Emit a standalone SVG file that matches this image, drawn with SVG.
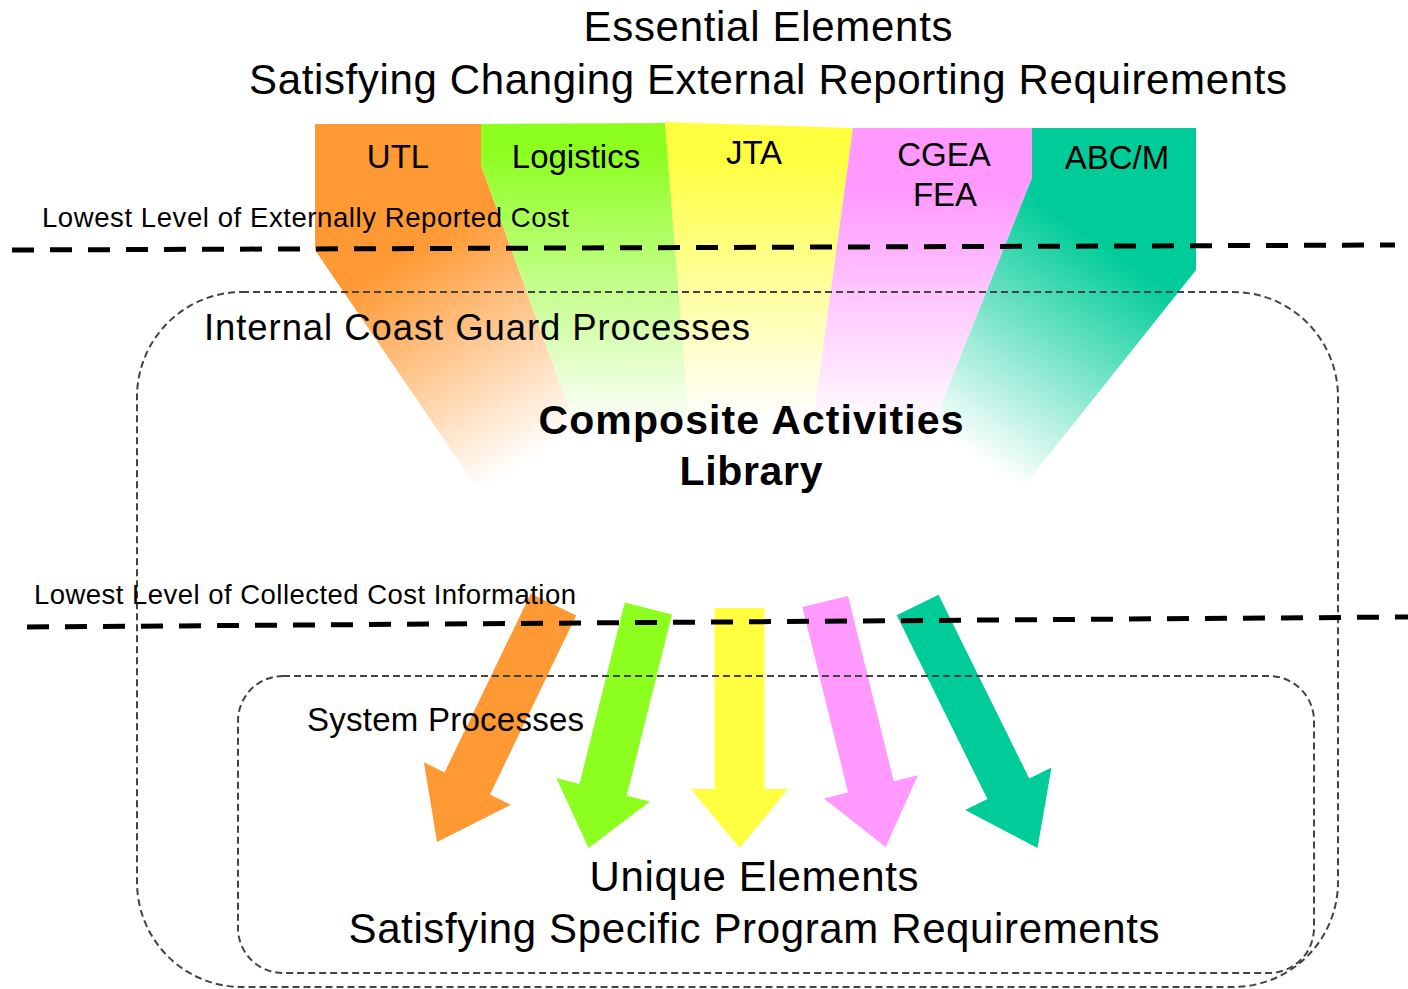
<svg xmlns="http://www.w3.org/2000/svg" width="1408" height="989" viewBox="0 0 1408 989">
<style>
text{font-family:"Liberation Sans",Arial,Helvetica,sans-serif;fill:#000}
.title{font-size:42px}
.band{font-size:33px}
.small{font-size:27.5px}
.mid{font-size:36.5px}
.bold{font-size:41px;font-weight:bold}
.thick{fill:none;stroke:#000;stroke-width:5;stroke-dasharray:22 16}
.thin{fill:none;stroke:#444;stroke-width:2;stroke-dasharray:7 4}
</style>
<defs>
<linearGradient id="gUTL" gradientUnits="userSpaceOnUse" x1="370" y1="225" x2="515" y2="470"><stop offset="0" stop-color="#FF9933"/><stop offset="0.15" stop-color="#FF9933"/><stop offset="1" stop-color="#FFFFFF"/></linearGradient>
<linearGradient id="gLOG" gradientUnits="userSpaceOnUse" x1="0" y1="150" x2="0" y2="430"><stop offset="0" stop-color="#8CFF1E"/><stop offset="1" stop-color="#FFFFFF"/></linearGradient>
<linearGradient id="gJTA" gradientUnits="userSpaceOnUse" x1="0" y1="160" x2="0" y2="420"><stop offset="0" stop-color="#FFFF40"/><stop offset="1" stop-color="#FFFFFF"/></linearGradient>
<linearGradient id="gCGEA" gradientUnits="userSpaceOnUse" x1="0" y1="190" x2="0" y2="430"><stop offset="0" stop-color="#FF99FF"/><stop offset="1" stop-color="#FFFFFF"/></linearGradient>
<linearGradient id="gABC" gradientUnits="userSpaceOnUse" x1="1150" y1="235" x2="995" y2="470"><stop offset="0" stop-color="#00CC99"/><stop offset="0.12" stop-color="#00CC99"/><stop offset="1" stop-color="#FFFFFF"/></linearGradient>
</defs>
<rect width="1408" height="989" fill="#fff"/>

<g id="band-utl"><polygon points="315,124 481,124 481,165 600,495 482,495 315,250" fill="url(#gUTL)"/><text class="band" x="398" y="168" text-anchor="middle">UTL</text></g>
<g id="band-logistics"><polygon points="481,124 665,123 695,495 600,495 481,165" fill="url(#gLOG)"/><text class="band" x="576" y="168" text-anchor="middle">Logistics</text></g>
<g id="band-jta"><polygon points="665,122 853,128 803,495 695,495" fill="url(#gJTA)"/><text class="band" x="754" y="164" text-anchor="middle">JTA</text></g>
<g id="band-cgea"><polygon points="853,128 1032,128 1032,178 905,495 803,495" fill="url(#gCGEA)"/><text class="band" x="944" y="166" text-anchor="middle">CGEA</text><text class="band" x="945" y="206" text-anchor="middle">FEA</text></g>
<g id="band-abcm"><polygon points="1032,128 1196,128 1196,270 1016,496 905,495 1032,178" fill="url(#gABC)"/><text class="band" x="1117" y="169" text-anchor="middle">ABC/M</text></g>

<g id="arrows">
<polygon id="arrow-orange" points="530.8,593.4 576.2,615.6 490,794.6 510.7,804.8 437,842 423.9,762.2 444.6,772.4" fill="#FF9933"/>
<polygon id="arrow-green" points="624.7,602.6 671.9,614.4 626.7,795.7 649.9,801.5 588.6,848 556.3,778.1 579.5,783.9" fill="#8CFF1E"/>
<polygon id="arrow-yellow" points="714.5,608 764.5,608 764.5,789 788,789 739.5,848 691,789 714.5,789" fill="#FFFF40"/>
<polygon id="arrow-pink" points="802.4,607.1 848,595.9 893.7,781.2 917.9,775.2 885.7,847 823.9,798.4 848.1,792.4" fill="#FF99FF"/>
<polygon id="arrow-teal" points="896.7,615.3 938.5,594.7 1029.2,778.5 1051.5,767.5 1037.5,848 965.1,810.1 987.4,799.1" fill="#00CC99"/>
</g>

<g id="internal-processes"><rect class="thin" x="137" y="292" width="1201" height="695" rx="105" ry="105"/></g>
<g id="system-processes"><rect class="thin" x="238" y="676" width="1076" height="297" rx="45" ry="45"/></g>

<g id="levels">
<line class="thick" x1="12" y1="250" x2="1395" y2="245"/>
<line class="thick" x1="27" y1="627" x2="1408" y2="617"/>
</g>

<g id="labels">
<text class="title" x="768" y="41" text-anchor="middle" textLength="369" lengthAdjust="spacing">Essential Elements</text>
<text class="title" x="768" y="94" text-anchor="middle" textLength="1038" lengthAdjust="spacing">Satisfying Changing External Reporting Requirements</text>
<text class="small" x="42" y="227" textLength="527" lengthAdjust="spacing">Lowest Level of Externally Reported Cost</text>
<text class="mid" x="204" y="340" textLength="546" lengthAdjust="spacing">Internal Coast Guard Processes</text>
<text class="bold" x="751" y="434" text-anchor="middle" textLength="425" lengthAdjust="spacing">Composite Activities</text>
<text class="bold" x="751" y="485" text-anchor="middle" textLength="143" lengthAdjust="spacing">Library</text>
<text class="small" x="34" y="604" textLength="542" lengthAdjust="spacing">Lowest Level of Collected Cost Information</text>
<text class="mid" x="307" y="731" textLength="277" lengthAdjust="spacing" style="font-size:33px">System Processes</text>
<text class="title" x="754" y="891" text-anchor="middle" textLength="329" lengthAdjust="spacing">Unique Elements</text>
<text class="title" x="754" y="943" text-anchor="middle" textLength="811" lengthAdjust="spacing">Satisfying Specific Program Requirements</text>
</g>
</svg>
